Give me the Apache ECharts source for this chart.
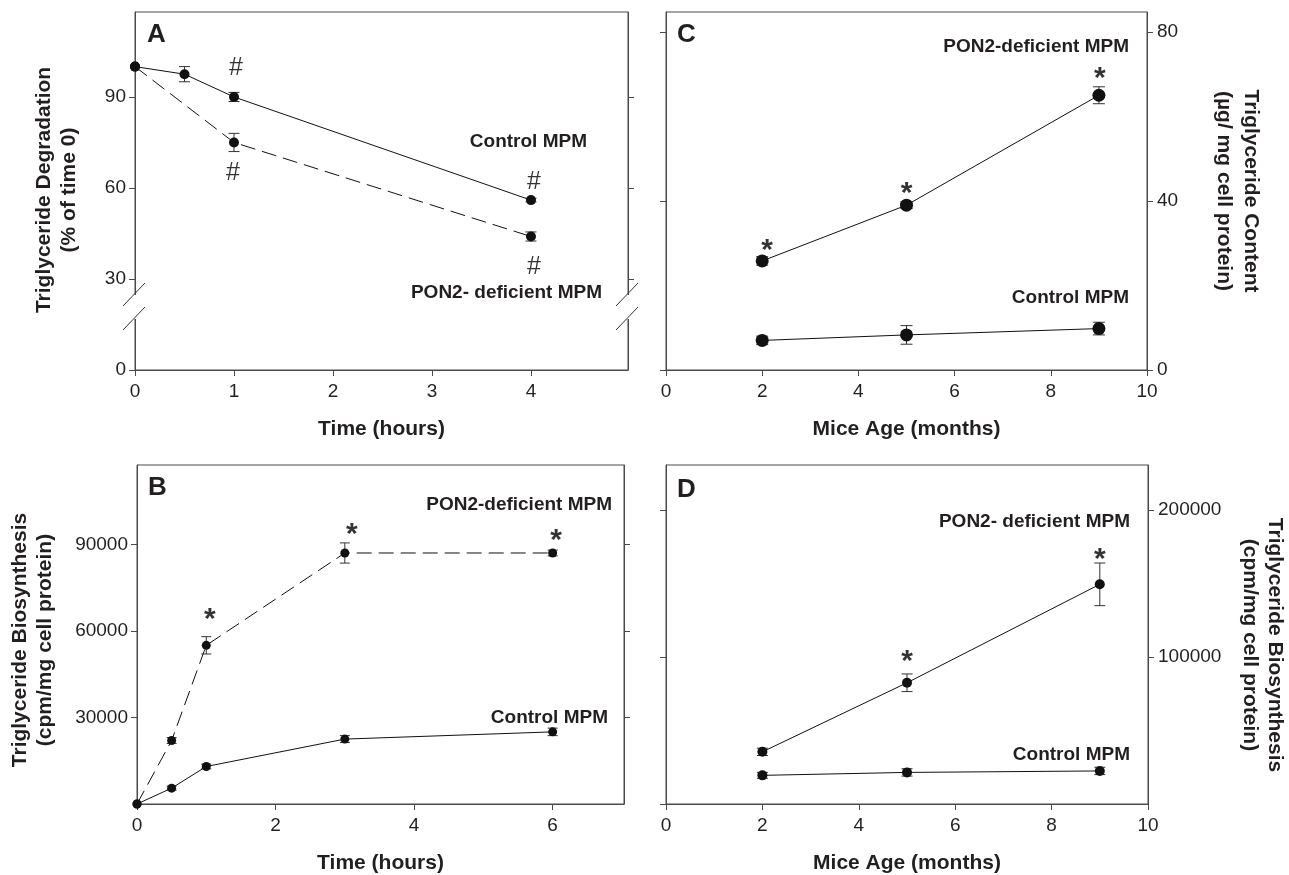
<!DOCTYPE html>
<html>
<head>
<meta charset="utf-8">
<script src="https://cdn.jsdelivr.net/npm/echarts@6/dist/echarts.min.js"></script>
<style>
html, body { margin: 0; padding: 0; background: #fff; }
#main { width: 1289px; height: 875px; }
</style>
</head>
<body>
<div id="main"></div>
<script>
// --- A: triglyceride degradation (% of time 0)
var timeA = [0, 0.5, 1, 4];
var ctrlA = [100, 97.5, 90, 56];
var ctrlAErr = [0, 2.5, 1.5, 0.6];
var timePonA = [0, 1, 4];
var ponA = [100, 75, 44];
var ponAErr = [0, 3, 1.5];
var hashA = [[1.02, 99.5], [0.99, 65], [4.03, 62], [4.03, 34]];
var ticksAx = [0, 1, 2, 3, 4];
var ticksAy = [0, 30, 60, 90];

// --- B: triglyceride biosynthesis vs time
var timeB = [0, 0.5, 1, 3, 6];
var ctrlB = [0, 5500, 13000, 22500, 25000];
var ctrlBErr = [0, 700, 800, 1200, 1300];
var ponB = [0, 22000, 55000, 87000, 87000];
var ponBErr = [0, 1000, 3000, 3500, 1000];
var starB = [[1.05, 64000], [3.1, 93300], [6.05, 91300]];
var ticksBx = [0, 2, 4, 6];
var ticksBy = [30000, 60000, 90000];

// --- C: triglyceride content vs age
var ageC = [2, 5, 9];
var ctrlC = [7, 8.3, 9.8];
var ctrlCErr = [1, 2.2, 1.5];
var ponC = [25.8, 39, 65];
var ponCErr = [1, 0.8, 2];
var starC = [[2.1, 28.3], [5, 41.8], [9.02, 69]];
var ticksCx = [0, 2, 4, 6, 8, 10];
var ticksCy = [0, 40, 80];

// --- D: triglyceride biosynthesis vs age
var ageD = [2, 5, 9];
var ctrlD = [19500, 21500, 22500];
var ctrlDErr = [2000, 2500, 2500];
var ponD = [35500, 82500, 149500];
var ponDErr = [2500, 6000, 14500];
var starD = [[5, 96500], [9, 166500]];
var ticksDx = [0, 2, 4, 6, 8, 10];
var ticksDy = [0, 100000, 200000];

var FONT = '"Liberation Sans", Arial, sans-serif';
var INK = '#231f20';
var AXIS = '#4a4a4a';

function zip(xs, ys) { return xs.map(function (x, i) { return [x, ys[i]]; }); }
function errs(xs, ys, es) {
  var out = [];
  xs.forEach(function (x, i) { if (es[i] > 0) out.push([x, ys[i] - es[i], ys[i] + es[i]]); });
  return out;
}

function errBar(capW) {
  return function (params, api) {
    var top = api.coord([api.value(0), api.value(2)]);
    var bot = api.coord([api.value(0), api.value(1)]);
    var st = { stroke: '#333', lineWidth: 1 };
    return { type: 'group', children: [
      { type: 'line', shape: { x1: top[0], y1: top[1], x2: bot[0], y2: bot[1] }, style: st },
      { type: 'line', shape: { x1: top[0] - capW / 2, y1: top[1], x2: top[0] + capW / 2, y2: top[1] }, style: st },
      { type: 'line', shape: { x1: bot[0] - capW / 2, y1: bot[1], x2: bot[0] + capW / 2, y2: bot[1] }, style: st }
    ] };
  };
}

function lineSeries(g, data, size, dashed) {
  return {
    type: 'line', xAxisIndex: g, yAxisIndex: g * 2, data: data,
    symbol: 'circle', symbolSize: size, animation: false, z: 3,
    itemStyle: { color: '#111' },
    lineStyle: { color: '#111', width: 1, type: dashed ? [15, 7] : 'solid' }
  };
}
function errSeries(g, data, capW) {
  return { type: 'custom', xAxisIndex: g, yAxisIndex: g * 2, data: data,
    renderItem: errBar(capW), encode: { x: 0, y: [1, 2] }, animation: false, z: 2 };
}
function markSeries(g, data, ch, size, weight) {
  return {
    type: 'scatter', xAxisIndex: g, yAxisIndex: g * 2, data: data, symbolSize: 1,
    itemStyle: { color: 'rgba(0,0,0,0)' }, animation: false, silent: true,
    label: { show: true, position: 'inside', formatter: ch, color: '#000',
      fontFamily: FONT, fontSize: size, fontWeight: weight || 'normal' }
  };
}

function plain(v) { return String(v); }

function xAxis(g, min, max, ticks, name) {
  return {
    type: 'value', gridIndex: g, min: min, max: max,
    name: name, nameLocation: 'middle', nameGap: 49,
    nameTextStyle: { fontFamily: FONT, fontWeight: 'bold', fontSize: 21, color: INK },
    axisLine: { lineStyle: { color: AXIS } },
    axisTick: { length: 6, lineStyle: { color: AXIS }, customValues: ticks },
    axisLabel: { fontFamily: FONT, fontSize: 19, color: INK, margin: 12,
      customValues: ticks, formatter: plain },
    splitLine: { show: false }
  };
}
function yAxis(g, pos, min, max, ticks, showLabels) {
  return {
    type: 'value', gridIndex: g, position: pos, min: min, max: max,
    axisLine: { show: true, lineStyle: { color: AXIS } },
    axisTick: { show: true, length: 6, lineStyle: { color: AXIS }, customValues: ticks },
    axisLabel: { show: showLabels, fontFamily: FONT, fontSize: 19, color: INK,
      margin: pos === 'left' ? 9 : 10, customValues: ticks, formatter: plain },
    splitLine: { show: false }
  };
}

var grids = [
  { left: 135, top: 12, width: 493, height: 358 },
  { left: 137, top: 465, width: 487, height: 353 },
  { left: 666, top: 12, width: 481, height: 358 },
  { left: 666, top: 465, width: 482, height: 353 }
].map(function (g) {
  return Object.assign({ show: true, borderColor: AXIS, borderWidth: 1, backgroundColor: 'transparent' }, g);
});

var option = {
  backgroundColor: '#fff',
  animation: false,
  grid: grids,
  xAxis: [
    xAxis(0, 0, 4.98, ticksAx, 'Time (hours)'),
    xAxis(1, 0, 7.03, ticksBx, 'Time (hours)'),
    xAxis(2, 0, 10, ticksCx, 'Mice Age (months)'),
    xAxis(3, 0, 10, ticksDx, 'Mice Age (months)')
  ],
  yAxis: [
    yAxis(0, 'left', 0, 118, ticksAy, true),
    yAxis(0, 'right', 0, 118, ticksAy.slice(1), false),
    yAxis(1, 'left', 0, 117500, ticksBy, true),
    yAxis(1, 'right', 0, 117500, ticksBy, false),
    yAxis(2, 'left', 0, 84.7, ticksCy, false),
    yAxis(2, 'right', 0, 84.7, ticksCy, true),
    yAxis(3, 'left', 0, 230700, ticksDy, false),
    yAxis(3, 'right', 0, 230700, ticksDy.slice(1), true)
  ],
  series: [
    lineSeries(0, zip(timeA, ctrlA), 10, false),
    lineSeries(0, zip(timePonA, ponA), 10, true),
    errSeries(0, errs(timeA, ctrlA, ctrlAErr), 11),
    errSeries(0, errs(timePonA, ponA, ponAErr), 11),
    markSeries(0, hashA, '#', 25),

    lineSeries(1, zip(timeB, ctrlB), 9, false),
    lineSeries(1, zip(timeB, ponB), 9, true),
    errSeries(1, errs(timeB, ctrlB, ctrlBErr), 10),
    errSeries(1, errs(timeB, ponB, ponBErr), 10),
    markSeries(1, starB, '*', 30, 'bold'),

    lineSeries(2, zip(ageC, ctrlC), 13, false),
    lineSeries(2, zip(ageC, ponC), 13, false),
    errSeries(2, errs(ageC, ctrlC, ctrlCErr), 12),
    errSeries(2, errs(ageC, ponC, ponCErr), 12),
    markSeries(2, starC, '*', 30, 'bold'),

    lineSeries(3, zip(ageD, ctrlD), 10, false),
    lineSeries(3, zip(ageD, ponD), 10, false),
    errSeries(3, errs(ageD, ctrlD, ctrlDErr), 11),
    errSeries(3, errs(ageD, ponD, ponDErr), 11),
    markSeries(3, starD, '*', 30, 'bold')
  ]
};

function txt(x, y, s, opt) {
  opt = opt || {};
  return {
    type: 'text', x: x, y: y, rotation: opt.rot || 0, z: 10,
    style: { text: s, fill: INK, font: (opt.font || 'bold 19px ' + FONT),
      align: opt.align || 'right', verticalAlign: 'middle', lineHeight: opt.lh || 24 }
  };
}
function brk(x, y) {
  return [
    { type: 'rect', shape: { x: x - 3, y: y - 12, width: 6, height: 24 }, style: { fill: '#fff' }, z: 9 },
    { type: 'line', shape: { x1: x - 12, y1: y - 1, x2: x + 10, y2: y - 24 }, style: { stroke: '#333', lineWidth: 1 }, z: 10 },
    { type: 'line', shape: { x1: x - 12, y1: y + 23, x2: x + 10, y2: y }, style: { stroke: '#333', lineWidth: 1 }, z: 10 }
  ];
}

var letterFont = 'bold 26px ' + FONT;
option.graphic = [].concat(
  brk(135, 307), brk(628, 307),
  [
    txt(147, 35, 'A', { font: letterFont, align: 'left' }),
    txt(148, 488, 'B', { font: letterFont, align: 'left' }),
    txt(677, 35, 'C', { font: letterFont, align: 'left' }),
    txt(677, 490, 'D', { font: letterFont, align: 'left' }),

    txt(587, 142, 'Control MPM'),
    txt(602, 293, 'PON2- deficient MPM'),
    txt(612, 505, 'PON2-deficient MPM'),
    txt(608, 718, 'Control MPM'),
    txt(1129, 47, 'PON2-deficient MPM'),
    txt(1129, 298, 'Control MPM'),
    txt(1130, 522, 'PON2- deficient MPM'),
    txt(1130, 755, 'Control MPM'),

    txt(57, 190, 'Triglyceride Degradation\n(% of time 0)',
      { rot: Math.PI / 2, align: 'center', font: 'bold 21px ' + FONT, lh: 25 }),
    txt(33, 640, 'Triglyceride Biosynthesis\n(cpm/mg cell protein)',
      { rot: Math.PI / 2, align: 'center', font: 'bold 21px ' + FONT, lh: 25 }),
    txt(1237, 191, 'Triglyceride Content\n(µg/ mg cell protein)',
      { rot: -Math.PI / 2, align: 'center', font: 'bold 21px ' + FONT, lh: 27 }),
    txt(1262, 645, 'Triglyceride Biosynthesis\n(cpm/mg cell protein)',
      { rot: -Math.PI / 2, align: 'center', font: 'bold 21px ' + FONT, lh: 25 })
  ]
);

var chart = echarts.init(document.getElementById('main'));
chart.setOption(option);
</script>
</body>
</html>
